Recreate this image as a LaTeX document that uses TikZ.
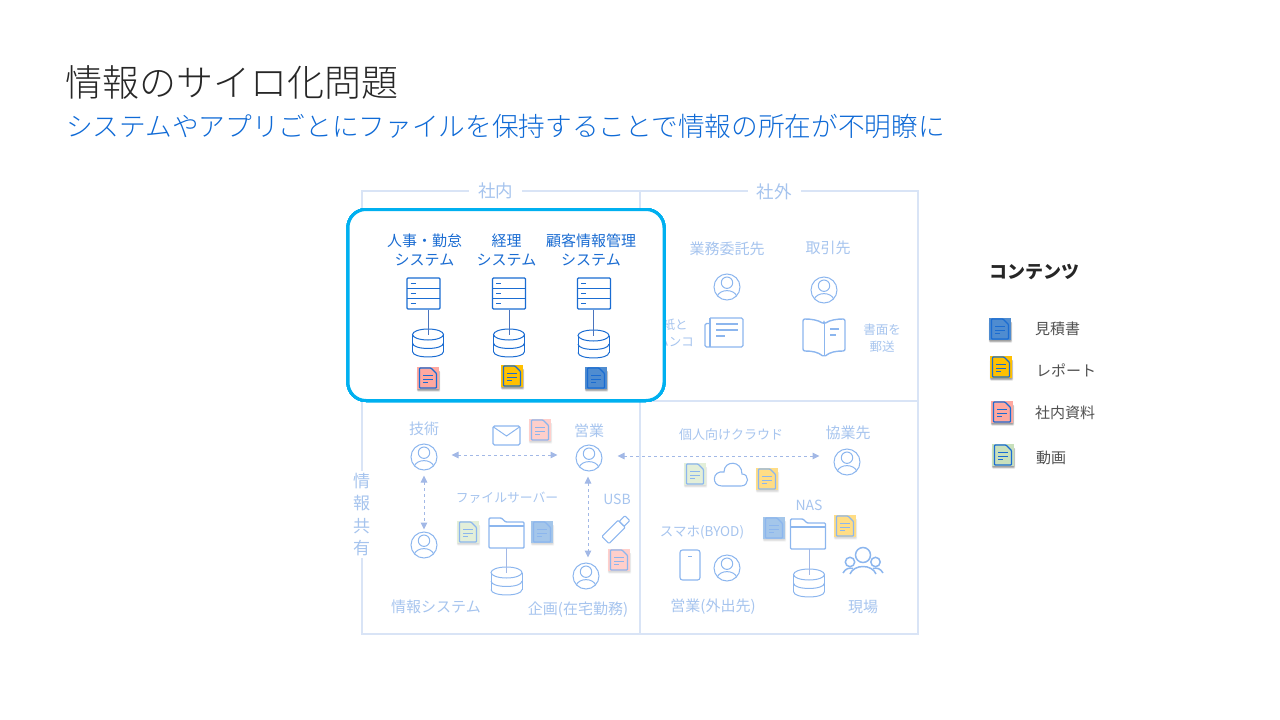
\documentclass[tikz,border=0pt]{standalone}
\usepackage{fontspec}
\setmainfont{Noto Sans CJK JP}
\newfontfamily\titlefont{Noto Sans CJK JP Light}
\usetikzlibrary{arrows.meta}
\definecolor{titlegray}{HTML}{262626}
\definecolor{subblue}{HTML}{0F6AD6}
\definecolor{boxcyan}{HTML}{00B0F0}
\definecolor{framecol}{HTML}{D9E4F6}
\definecolor{iconblue}{HTML}{1A6CD2}
\definecolor{iconfade}{HTML}{8CB6EE}
\definecolor{textfade}{HTML}{A6C4EE}
\definecolor{linkfade}{HTML}{A2B8E6}
\definecolor{linkblue}{HTML}{4A74BE}
\definecolor{legendgray}{HTML}{505050}
\definecolor{docblue}{HTML}{4F8CD0}
\definecolor{docyellow}{HTML}{FFC000}
\definecolor{docpink}{HTML}{FFA8A0}
\definecolor{docgreen}{HTML}{C8E0BC}
\definecolor{fadeblue}{HTML}{A4C6EA}
\definecolor{fadeyellow}{HTML}{FFDD85}
\definecolor{fadepink}{HTML}{FFCFCB}
\definecolor{fadegreen}{HTML}{E3EFD9}
\newcommand{\sz}[1]{\fontsize{#1}{#1}\selectfont}
\newcommand{\docicon}[5]{
  \begin{scope}[shift={(#1,#2)}]
    \foreach \s in {0,1,2}
      \fill[black,opacity=#5,rounded corners=1pt] (-10.5-\s*0.3,-8+\s*0.5) rectangle (11+\s*0.6,12+\s*0.8);
    \fill[#3] (-11,-11) rectangle (11,11);
    \draw[#4,line width=1.2,rounded corners=0.8] (-8.5,-10) -- (3,-10) -- (8.5,-4.5) -- (8.5,10) -- (-8.5,10) -- cycle;
    \draw[#4,line width=0.9] (-5,-2.5) -- (5,-2.5) (-5,1) -- (5,1) (-5,4.5) -- (0,4.5);
  \end{scope}}
\tikzset{
  fadetxt/.style={text=textfade,inner sep=0pt,align=center,yshift=-1pt,font=\fontsize{15}{18}\selectfont},
  sysname/.style={text=iconblue,inner sep=0pt,align=center,yshift=-1pt,font=\fontsize{15}{18.5}\selectfont},
  legendtxt/.style={text=legendgray,inner sep=0pt,anchor=west,yshift=-1pt,font=\sz{15}},
  personicon/.style={circle,draw=iconfade,line width=1pt,minimum size=26pt,inner sep=0pt,
    path picture={
      \draw[iconfade,line width=1pt] (0,-4.3) circle (5.7);
      \draw[iconfade,line width=1pt] (-10,10) .. controls (-8,1.5) and (8,1.5) .. (10,10);
    }},
  sharelink/.style={dashed,linkfade,line width=1pt,{Triangle[length=7pt,width=6.5pt]}-{Triangle[length=7pt,width=6.5pt]}},
  % icons
  servericon/.pic={
    \node[draw,line width=1.4pt,rounded corners=1pt,minimum width=33pt,minimum height=31pt,inner sep=0pt] (-box) at (0,0) {};
    \draw[line width=1.4pt] (-16.5,-5.2) -- (16.5,-5.2) (-16.5,5.2) -- (16.5,5.2);
    \draw[line width=1.1pt] (-13,-10.4) -- (-8,-10.4) (-13,0) -- (-8,0) (-13,10.4) -- (-8,10.4);
  },
  dbicon/.pic={
    \coordinate (-c) at (0,0);
    \draw[line width=1pt] (0,0) ellipse (15.5 and 5.5);
    \draw[line width=1pt] (-15.5,0) -- (-15.5,17) (15.5,0) -- (15.5,17);
    \foreach \d in {8.5,17}
      \draw[line width=1pt] (-15.5,\d) .. controls (-15.5,\d+7.3) and (15.5,\d+7.3) .. (15.5,\d);
  },
  foldericon/.pic={
    \coordinate (-s) at (0,15);
    \draw[line width=1.4pt,rounded corners=1pt] (-17.5,15) -- (-17.5,-15) -- (-5,-15) -- (-1,-11) -- (17.5,-11) -- (17.5,15) -- cycle;
    \draw[line width=1.8pt] (-17.5,-7) -- (17.5,-7);
  },
  mailicon/.pic={
    \draw[line width=1.2pt,rounded corners=1.5pt] (-13.5,-9.5) rectangle (13.5,9.5);
    \draw[line width=1pt] (-13,-8.5) -- (0,0.5) -- (13,-8.5);
  },
  usbicon/.pic={
    \draw[line width=1.1pt,rounded corners=1pt] (-15,-5) rectangle (8,5);
    \draw[line width=1.1pt,rounded corners=1pt] (8,-3.5) rectangle (16,3.5);
  },
  cloudicon/.pic={
    \draw[line width=1.1pt] (-9,11) -- (10,11) .. controls (18.5,11) and (18.5,-1) .. (11,-1)
      .. controls (11,-15) and (-7,-15) .. (-7,-3) .. controls (-19,-5) and (-20,11) .. (-9,11) -- cycle;
  },
  phoneicon/.pic={
    \draw[line width=1.1pt,rounded corners=2.5pt] (-10,-15) rectangle (10,15);
    \draw[line width=0.8pt] (-2,-9) -- (2,-9);
  },
  newsicon/.pic={
    \draw[line width=1.3pt,rounded corners=1.5pt] (-14,-14.5) -- (19,-14.5) -- (19,14.5) -- (-19,14.5) -- (-19,-9) -- (-14,-9);
    \draw[line width=1.3pt] (-14,-14.5) -- (-14,14);
    \draw[line width=1.2pt] (-8,-8.5) -- (14,-8.5) (-8,-2.5) -- (14,-2.5) (-8,3.5) -- (1,3.5);
  },
  bookicon/.pic={
    \draw[line width=1.4pt,rounded corners=2pt] (0,-14) .. controls (-6,-18) and (-13,-19) .. (-21,-19) -- (-21,13)
      .. controls (-12,13) and (-6,14) .. (0,19) .. controls (6,14) and (12,13) .. (21,13) -- (21,-19)
      .. controls (13,-19) and (6,-18) .. (0,-14) -- cycle;
    \draw[line width=1pt] (0,-14) -- (0,17);
    \draw[line width=1.6pt] (6,-9) -- (15,-9) (6,-3) -- (12,-3);
  },
  teamicon/.pic={
    \draw[line width=1.5pt] (0,-6) circle (7.5) (-13,1) circle (4.7) (12.5,1) circle (4.7);
    \draw[line width=1.5pt] (-13,13) .. controls (-9,3) and (9,3) .. (13,13);
    \draw[line width=1.5pt] (-20,12) .. controls (-17.5,7.5) and (-14,6.5) .. (-10,7.5);
    \draw[line width=1.5pt] (20,12) .. controls (17.5,7.5) and (14,6.5) .. (10,7.5);
  },
}
\begin{document}
\begin{tikzpicture}[x=1pt,y=-1pt]
  \useasboundingbox (0,0) rectangle (1280,720);
  \node[text=titlegray,anchor=west,inner sep=0pt,font=\titlefont\sz{37}] (title) at (65,82) {情報のサイロ化問題};
  \node[text=subblue,anchor=west,inner sep=0pt,font=\titlefont\sz{26.67}] (subtitle) at (66,126) {システムやアプリごとにファイルを保持することで情報の所在が不明瞭に};
  % Marco
  \draw[framecol,line width=1.5pt] (362,191) rectangle (918,634) (640,191) -- (640,634) (362,401) -- (918,401);
  \node[fadetxt,fill=white,inner xsep=9pt,inner ysep=2pt,font=\sz{17.5}] (shanai) at (495.5,190) {社内};
  \node[fadetxt,fill=white,inner xsep=9pt,inner ysep=2pt,font=\sz{17.5}] (shagai) at (774,191) {社外};
  \node[fadetxt,fill=white,inner xsep=2pt,inner ysep=2pt,font=\fontsize{17}{22.5}\selectfont] (joho) at (361.5,513.5) {情\\報\\共\\有};
  %社外
  \node[fadetxt] (itaku) at (727,248) {業務委託先};
  \node[fadetxt] (torihiki) at (828,247) {取引先};
  \node[fadetxt,font=\fontsize{12.5}{17}\selectfont] (hanko) at (675,332) {紙と\\ハンコ};
  \node[fadetxt,font=\fontsize{12.5}{17}\selectfont] (yuso) at (882,337.5) {書面を\\郵送};
  \pic[color=iconfade] at (724,332.5) {newsicon};
  \pic[color=iconfade] at (824,338) {bookicon};
  % Labels abajo
  \node[fadetxt] (gijutsu) at (424,428) {技術};
  \node[fadetxt] (eigyo) at (589,430) {営業};
  \node[fadetxt,font=\sz{12.8}] (fileserver) at (507,497) {ファイルサーバー};
  \node[fadetxt] (johosys) at (436,606) {情報システム};
  \node[fadetxt] (kikaku) at (578,608.5) {企画(在宅勤務)};
  \node[fadetxt,font=\sz{14}] (usb) at (617,498) {USB};
  \node[fadetxt,font=\sz{13}] (kojin) at (731,433.5) {個人向けクラウド};
  \node[fadetxt] (kyogyo) at (848,432) {協業先};
  \node[fadetxt,font=\sz{14}] (nas) at (809,504) {NAS};
  \node[fadetxt,font=\sz{13.5}] (sumaho) at (702,531) {スマホ(BYOD)};
  \node[fadetxt] (gaishutsu) at (713,606) {営業(外出先)};
  \node[fadetxt] (genba) at (863,606) {現場};
  % Personas
  \foreach \x/\y/\n in {727/287/pitaku,824/290/ptorihiki,424/457/pgijutsu,424/545/pjoho,
      589/458/peigyo,586/576/pkikaku,847/462/pkyogyo,727/568/pgaishutsu}
    \node[personicon] (\n) at (\x,\y) {};
  % Iconos abajo
  \pic[color=iconfade] at (506.5,435.5) {mailicon};
  \pic[color=iconfade,rotate=45] at (616,529.5) {usbicon};
  \pic[color=iconfade] at (731,475) {cloudicon};
  \pic[color=iconfade] at (690,565) {phoneicon};
  \pic[color=iconfade] at (863,561) {teamicon};
  \pic[color=iconfade] (folder1) at (506.5,533) {foldericon};
  \pic[color=iconfade] (folder2) at (808,534) {foldericon};
  \pic[color=iconfade] (db4) at (506.5,572.5) {dbicon};
  \pic[color=iconfade] (db5) at (809,574.5) {dbicon};
  \draw[linkfade,line width=1pt] (folder1-s) -- (db4-c);
  \draw[linkfade,line width=1pt] (folder2-s -| db5-c) -- (db5-c);
  % Flechas
  \draw[sharelink,shorten <=14pt,shorten >=18pt] ([yshift=2pt]pgijutsu.east) -- ([yshift=2pt]pgijutsu.east -| peigyo.west);
  \draw[sharelink,shorten <=15pt,shorten >=14pt] ([yshift=2pt]peigyo.east) -- ([yshift=2pt]peigyo.east -| pkyogyo.west);
  \draw[sharelink,shorten <=5pt,shorten >=2pt] (pgijutsu.south) -- (pjoho.north);
  \draw[sharelink,shorten <=5pt,shorten >=5pt] ([xshift=-1pt]peigyo.south) -- ([xshift=-1pt]peigyo.south |- pkikaku.north);
  \foreach \x/\y/\b in {540/430/fadepink,468/532/fadegreen,542/532/fadeblue,619/560/fadepink,
      695/474/fadegreen,767/479/fadeyellow,774/528/fadeblue,845/526/fadeyellow}
    \docicon{\x}{\y}{\b}{iconfade}{0.05}
  % Caja de sistemas
  \draw[boxcyan,line width=3pt,fill=white,rounded corners=18pt] (348,209.5) rectangle (664,400.5);
  \node[sysname] (jinji) at (424.5,249) {人事・勤怠\\システム};
  \node[sysname] (keiri) at (506.5,249) {経理\\システム};
  \node[sysname] (kokyaku) at (591,249) {顧客情報管理\\システム};
  \pic[color=iconblue] (srv1) at (423.5,293.5) {servericon};
  \pic[color=iconblue] (srv2) at (509,293.5) {servericon};
  \pic[color=iconblue] (srv3) at (594,293.5) {servericon};
  \pic[color=iconblue] (db1) at (428,334.5) {dbicon};
  \pic[color=iconblue] (db2) at (509,334.5) {dbicon};
  \pic[color=iconblue] (db3) at (593.5,335.5) {dbicon};
  \foreach \n in {1,2,3}
    \draw[linkblue,line width=1pt] (srv\n-box.south -| db\n-c) -- (db\n-c);
  \docicon{428}{378}{docpink}{iconblue}{0.14}
  \docicon{512}{376}{docyellow}{iconblue}{0.14}
  \docicon{596}{378}{docblue}{iconblue}{0.14}
  % Contenido
  \node[text=titlegray,anchor=west,inner sep=0pt,yshift=-1pt,font=\sz{18}\bfseries] (legend) at (989,271) {コンテンツ};
  \docicon{1000}{329}{docblue}{iconblue}{0.14}
  \docicon{1001}{367}{docyellow}{iconblue}{0.14}
  \docicon{1002}{412}{docpink}{iconblue}{0.14}
  \docicon{1003}{455}{docgreen}{iconblue}{0.14}
  \node[legendtxt] (mitsumori) at (1035,328) {見積書};
  \node[legendtxt] (report) at (1036,369) {レポート};
  \node[legendtxt] (shiryo) at (1035,412) {社内資料};
  \node[legendtxt] (doga) at (1036,457) {動画};
\end{tikzpicture}
\end{document}
